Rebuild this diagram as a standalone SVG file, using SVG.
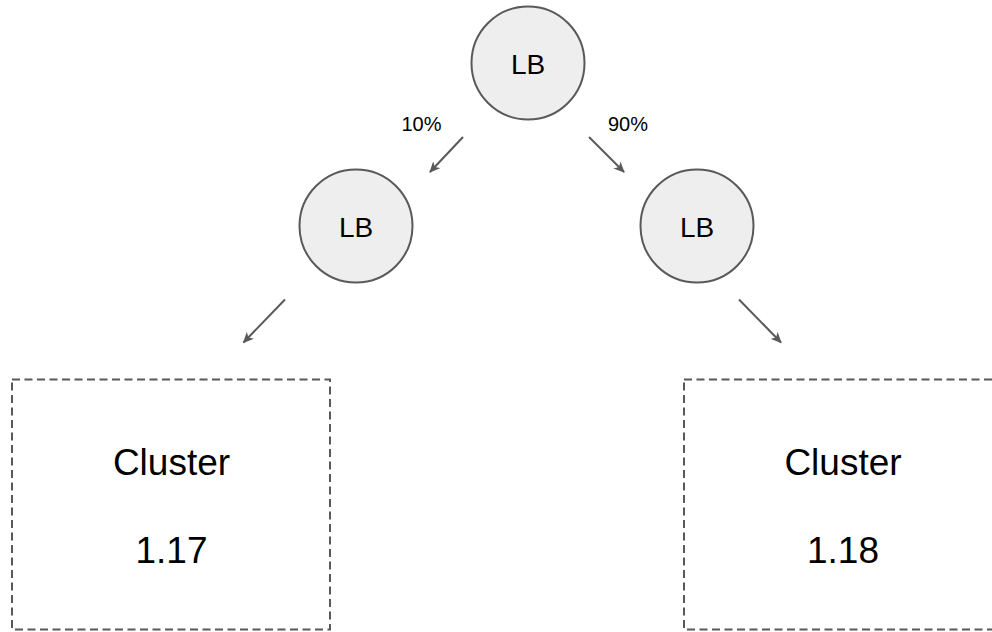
<svg xmlns="http://www.w3.org/2000/svg" width="992" height="632" viewBox="0 0 992 632">
<style>
.node circle{fill:#eeeeee;stroke:#595959;stroke-width:2}
.cluster rect{fill:none;stroke:#595959;stroke-width:2;stroke-dasharray:8,4.5}
text{font-family:"Liberation Sans",Arial,sans-serif;fill:#000;text-anchor:middle}
.lb{font-size:28px}
.pct{font-size:20px}
.big{font-size:37px}
.conn line{stroke:#595959;stroke-width:2;fill:none}
</style>
<defs>
<marker id="arr" markerWidth="12" markerHeight="10" refX="10" refY="5" orient="auto" markerUnits="userSpaceOnUse">
<path d="M0,0 L11,5 L0,10 L3,5 Z" fill="#595959"/>
</marker>
</defs>
<rect width="992" height="632" fill="#ffffff"/>
<g id="lb-top" class="node"><circle cx="528" cy="63" r="56.5"/><text class="lb" x="528" y="74">LB</text></g>
<g id="lb-left" class="node"><circle cx="356" cy="226" r="56.5"/><text class="lb" x="356" y="236.5">LB</text></g>
<g id="lb-right" class="node"><circle cx="697" cy="226" r="56.5"/><text class="lb" x="697" y="236.5">LB</text></g>
<g id="cluster-117" class="cluster"><rect x="12" y="379.5" width="318" height="250"/><text class="big" x="171.5" y="475">Cluster</text><text class="big" x="171.5" y="563">1.17</text></g>
<g id="cluster-118" class="cluster"><rect x="684" y="379.5" width="318" height="250"/><text class="big" x="843" y="475">Cluster</text><text class="big" x="843" y="563">1.18</text></g>
<g id="connectors" class="conn">
<line x1="463" y1="137" x2="430" y2="172" marker-end="url(#arr)"/>
<line x1="589" y1="137" x2="624" y2="172" marker-end="url(#arr)"/>
<line x1="285" y1="299.5" x2="243.5" y2="342.5" marker-end="url(#arr)"/>
<line x1="739" y1="299.5" x2="781" y2="342.5" marker-end="url(#arr)"/>
<text class="pct" x="421.5" y="131">10%</text>
<text class="pct" x="628" y="131">90%</text>
</g>
</svg>
